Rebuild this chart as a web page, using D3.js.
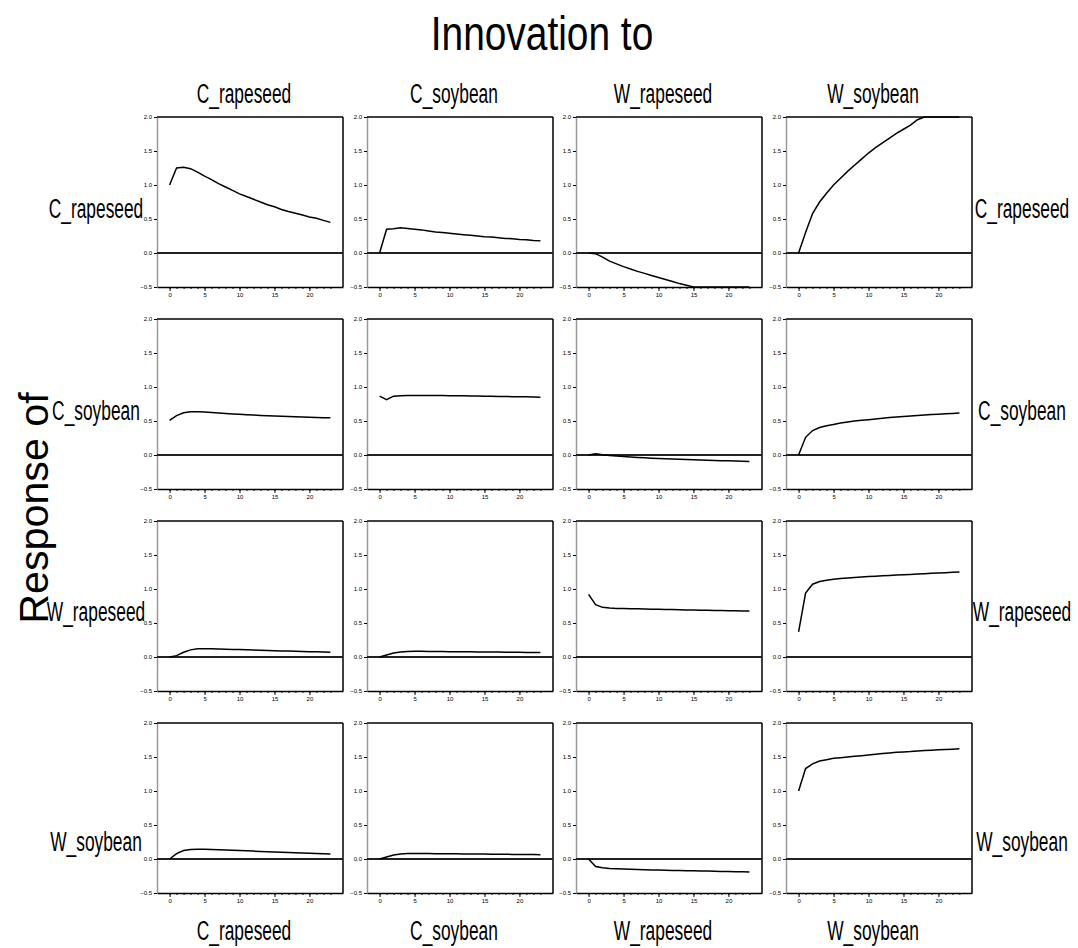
<!DOCTYPE html>
<html>
<head>
<meta charset="utf-8">
<script src="https://cdn.jsdelivr.net/npm/d3@7"></script>
<style>
  body { margin: 0; background: #fff; }
  text { font-family: "Liberation Sans Narrow", "Liberation Sans", sans-serif; fill: #000; }
</style>
</head>
<body>
<div id="chart"></div>
<script>
// Variables and horizon
const variables = ["C_rapeseed", "C_soybean", "W_rapeseed", "W_soybean"];
const lags = [0, 1, 2, 3, 4, 5, 6, 7, 8, 9, 10, 11, 12, 13, 14, 15, 16, 17, 18, 19, 20, 21, 22, 23];
const yTicks = [-0.5, 0, 0.5, 1.0, 1.5, 2.0];
const xTicks = [0, 5, 10, 15, 20];

// Responses (row = response of, column = innovation to)
const cRapeToCRape = [1.00, 1.25, 1.26, 1.24, 1.19, 1.13, 1.08, 1.02, 0.97, 0.92, 0.87, 0.83, 0.79, 0.75, 0.71, 0.68, 0.64, 0.61, 0.585, 0.56, 0.53, 0.51, 0.48, 0.45];
const cRapeToCSoy = [0, 0.35, 0.355, 0.37, 0.36, 0.35, 0.34, 0.325, 0.31, 0.30, 0.29, 0.28, 0.27, 0.26, 0.25, 0.24, 0.235, 0.225, 0.215, 0.21, 0.20, 0.195, 0.185, 0.18];
const cRapeToWRape = [0, -0.01, -0.06, -0.12, -0.16, -0.20, -0.235, -0.27, -0.30, -0.33, -0.36, -0.39, -0.42, -0.45, -0.475, -0.5, -0.5, -0.5, -0.5, -0.5, -0.5, -0.5, -0.5, -0.5];
const cRapeToWSoy = [0, 0.30, 0.58, 0.75, 0.88, 1.00, 1.10, 1.20, 1.29, 1.38, 1.47, 1.55, 1.62, 1.69, 1.76, 1.82, 1.88, 1.96, 2.0, 2.0, 2.0, 2.0, 2.0, 2.0];

const cSoyToCRape = [0.51, 0.58, 0.62, 0.635, 0.637, 0.633, 0.625, 0.618, 0.61, 0.604, 0.598, 0.592, 0.587, 0.582, 0.578, 0.574, 0.57, 0.566, 0.562, 0.558, 0.555, 0.552, 0.549, 0.546];
const cSoyToCSoy = [0.865, 0.815, 0.865, 0.872, 0.875, 0.876, 0.876, 0.876, 0.875, 0.874, 0.873, 0.872, 0.870, 0.868, 0.866, 0.865, 0.863, 0.861, 0.86, 0.858, 0.856, 0.855, 0.853, 0.851];
const cSoyToWRape = [0, 0.02, 0.003, -0.008, -0.016, -0.023, -0.03, -0.036, -0.041, -0.046, -0.051, -0.055, -0.059, -0.063, -0.067, -0.07, -0.074, -0.077, -0.08, -0.083, -0.086, -0.089, -0.092, -0.095];
const cSoyToWSoy = [0, 0.26, 0.36, 0.405, 0.43, 0.45, 0.47, 0.485, 0.50, 0.51, 0.52, 0.53, 0.54, 0.55, 0.558, 0.566, 0.574, 0.58, 0.587, 0.594, 0.60, 0.606, 0.612, 0.618];

const wRapeToCRape = [0, 0.02, 0.07, 0.105, 0.12, 0.122, 0.12, 0.118, 0.115, 0.112, 0.109, 0.106, 0.102, 0.099, 0.096, 0.093, 0.09, 0.087, 0.084, 0.081, 0.078, 0.076, 0.073, 0.07];
const wRapeToCSoy = [0, 0.03, 0.058, 0.073, 0.08, 0.083, 0.083, 0.082, 0.081, 0.08, 0.079, 0.078, 0.077, 0.076, 0.075, 0.074, 0.073, 0.072, 0.071, 0.07, 0.069, 0.068, 0.067, 0.066];
const wRapeToWRape = [0.92, 0.77, 0.73, 0.72, 0.715, 0.712, 0.71, 0.708, 0.705, 0.703, 0.701, 0.699, 0.697, 0.695, 0.693, 0.691, 0.689, 0.687, 0.685, 0.683, 0.681, 0.679, 0.677, 0.675];
const wRapeToWSoy = [0.37, 0.94, 1.07, 1.11, 1.13, 1.145, 1.155, 1.163, 1.17, 1.177, 1.183, 1.189, 1.195, 1.20, 1.205, 1.21, 1.215, 1.22, 1.225, 1.23, 1.235, 1.24, 1.245, 1.25];

const wSoyToCRape = [0, 0.08, 0.125, 0.14, 0.145, 0.143, 0.14, 0.136, 0.132, 0.128, 0.124, 0.12, 0.116, 0.112, 0.108, 0.104, 0.10, 0.096, 0.092, 0.088, 0.084, 0.08, 0.076, 0.072];
const wSoyToCSoy = [0, 0.03, 0.06, 0.075, 0.08, 0.082, 0.081, 0.08, 0.079, 0.078, 0.077, 0.076, 0.075, 0.074, 0.073, 0.072, 0.071, 0.07, 0.069, 0.068, 0.067, 0.066, 0.065, 0.064];
const wSoyToWRape = [0, -0.11, -0.13, -0.138, -0.143, -0.147, -0.151, -0.154, -0.157, -0.16, -0.163, -0.165, -0.168, -0.17, -0.172, -0.174, -0.176, -0.178, -0.18, -0.182, -0.184, -0.186, -0.188, -0.19];
const wSoyToWSoy = [1.00, 1.33, 1.40, 1.44, 1.46, 1.48, 1.49, 1.50, 1.51, 1.52, 1.53, 1.54, 1.55, 1.56, 1.57, 1.575, 1.58, 1.59, 1.595, 1.60, 1.605, 1.61, 1.615, 1.62];

const grid = [
  [cRapeToCRape, cRapeToCSoy, cRapeToWRape, cRapeToWSoy],
  [cSoyToCRape, cSoyToCSoy, cSoyToWRape, cSoyToWSoy],
  [wRapeToCRape, wRapeToCSoy, wRapeToWRape, wRapeToWSoy],
  [wSoyToCRape, wSoyToCSoy, wSoyToWRape, wSoyToWSoy]
];

// Layout
const width = 1078;
const height = 948;
const panelW = 186;
const panelH = 170;
const colX = [157, 367, 576, 786];
const rowY = [117, 319, 521, 723];
const rowLabelY = [208, 410, 611, 841];

const svg = d3.select("#chart")
  .append("svg")
  .attr("width", width)
  .attr("height", height);

const x = d3.scaleLinear().domain([-1.8, 24.8]).range([0, panelW]);
const y = d3.scaleLinear().domain([-0.5, 2.0]).range([panelH, 0]);

const line = d3.line()
  .x((d, i) => x(lags[i]))
  .y((d) => y(d));

// Label helper (the original text is condensed)
function label(g, txt, cx, cy, size, sx, rotate) {
  const t = g.append("g")
    .attr("transform", `translate(${cx},${cy}) rotate(${rotate || 0}) scale(${sx},1)`);
  t.append("text")
    .attr("text-anchor", "middle")
    .attr("dominant-baseline", "central")
    .style("font-size", size + "px")
    .text(txt);
  return t;
}

// Titles
label(svg, "Innovation to", 542, 33, 48, 0.81);
const resp = label(svg, "Response of", 34, 508, 40, 1.03, -90);
resp.select("text").style("font-family", "'Liberation Sans', Arial, sans-serif");

variables.forEach((v, c) => {
  const cx = colX[c] + panelW / 2 - 6;
  label(svg, v, cx, 93, 28, 0.62);
  label(svg, v, cx, 930, 28, 0.62);
});
variables.forEach((v, r) => {
  label(svg, v, 96, rowLabelY[r], 28, 0.62);
  label(svg, v, 1022, rowLabelY[r], 28, 0.62);
});

// Panels
grid.forEach((row, r) => {
  row.forEach((series, c) => {
    const g = svg.append("g").attr("transform", `translate(${colX[c]},${rowY[r]})`);

    // y axis
    const ya = g.append("g")
      .call(d3.axisLeft(y).tickValues(yTicks).tickFormat(d3.format(".1f")).tickSize(3).tickSizeOuter(0));
    ya.select(".domain").attr("stroke", "#999").attr("stroke-width", 1.5);
    ya.selectAll(".tick line").attr("stroke", "#000");
    ya.selectAll(".tick text").attr("x", -5).attr("fill", "#000")
      .style("font-size", "6px").style("font-family", "'Liberation Sans Narrow', sans-serif");

    // x axis with minor ticks
    g.append("g")
      .attr("transform", `translate(0,${panelH})`)
      .call(d3.axisBottom(x).tickValues(lags).tickFormat("").tickSize(2).tickSizeOuter(0))
      .call((a) => a.select(".domain").remove());
    const xa = g.append("g")
      .attr("transform", `translate(0,${panelH})`)
      .call(d3.axisBottom(x).tickValues(xTicks).tickSize(4).tickSizeOuter(0));
    xa.select(".domain").attr("stroke", "#000").attr("stroke-width", 1.5);
    xa.selectAll(".tick text").attr("y", 6).attr("fill", "#000")
      .style("font-size", "6px").style("font-family", "'Liberation Sans Narrow', sans-serif");

    // top and right frame
    g.append("line").attr("x1", 0).attr("x2", panelW).attr("y1", 0).attr("y2", 0)
      .attr("stroke", "#000").attr("stroke-width", 1.5);
    g.append("line").attr("x1", panelW).attr("x2", panelW).attr("y1", 0).attr("y2", panelH)
      .attr("stroke", "#000").attr("stroke-width", 1.5);

    // zero line
    g.append("line").attr("x1", 0).attr("x2", panelW).attr("y1", y(0)).attr("y2", y(0))
      .attr("stroke", "#222").attr("stroke-width", 2);

    // response
    g.append("path")
      .datum(series)
      .attr("d", line)
      .attr("fill", "none")
      .attr("stroke", "#000")
      .attr("stroke-width", 1.5);
  });
});
</script>
</body>
</html>
